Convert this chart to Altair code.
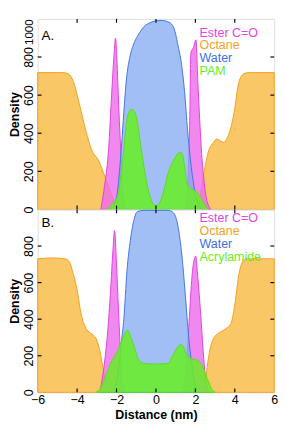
import altair as alt
import pandas as pd

# ---------------- data ----------------
# Panel A
A_OCT_L_X = [-6, -4.7, -4.45, -4.2, -3.9, -3.55, -3.25, -2.9, -2.6, -2.25, -2.0, -1.75]
A_OCT_L_Y = [718, 718, 712, 675, 560, 410, 310, 255, 175, 75, 20, 0]
A_OCT_R_X = [2.1, 2.3, 2.45, 2.65, 2.9, 3.1, 3.3, 3.45, 3.6, 3.8, 3.95, 4.2, 4.45, 4.7, 6]
A_OCT_R_Y = [0, 100, 200, 300, 350, 370, 358, 352, 372, 430, 500, 665, 712, 718, 718]

A_EST_L_X = [-2.8, -2.6, -2.4, -2.25, -2.12, -2.05, -1.97, -1.88, -1.78, -1.68, -1.6]
A_EST_L_Y = [0, 130, 320, 600, 820, 900, 760, 520, 300, 90, 0]
A_EST_R_X = [1.5, 1.62, 1.72, 1.77, 1.9, 2.03, 2.13, 2.22, 2.32, 2.45, 2.6, 2.8]
A_EST_R_Y = [0, 150, 500, 820, 850, 890, 660, 470, 290, 140, 40, 0]

A_WAT_X = [-2.4, -2.2, -2.0, -1.85, -1.75, -1.63, -1.5, -1.3, -1.1, -0.9, -0.6, -0.3,
           0.0, 0.3, 0.6, 0.85, 1.0, 1.1, 1.3, 1.45, 1.6, 1.75, 1.9, 2.05, 2.25, 2.4]
A_WAT_Y = [0, 10, 60, 200, 330, 510, 680, 810, 875, 915, 960, 980,
           990, 992, 985, 965, 920, 870, 760, 620, 420, 260, 140, 60, 10, 0]

A_PAM_X = [-2.5, -2.2, -1.95, -1.8, -1.65, -1.5, -1.38, -1.25, -1.1, -0.94, -0.78, -0.6,
           -0.45, -0.3, -0.15, 0.0, 0.15, 0.3, 0.45, 0.6, 0.78, 0.93, 1.09, 1.25, 1.35,
           1.45, 1.55, 1.7, 1.85, 2.05, 2.2, 2.35, 2.5, 2.65]
A_PAM_Y = [0, 30, 70, 160, 300, 450, 510, 525, 515, 460, 340, 220,
           130, 70, 30, 20, 30, 65, 120, 185, 235, 265, 290, 300, 285,
           230, 150, 115, 105, 95, 75, 50, 20, 0]

# Panel B
B_OCT_L_X = [-6, -5.3, -4.6, -4.4, -4.2, -4.0, -3.8, -3.6, -3.4, -3.2, -3.0, -2.85, -2.7, -2.55, -2.4]
B_OCT_L_Y = [730, 735, 730, 715, 650, 560, 430, 360, 330, 315, 285, 230, 140, 60, 0]
B_OCT_R_X = [2.45, 2.6, 2.75, 2.95, 3.2, 3.5, 3.8, 4.0, 4.2, 4.4, 4.6, 5.2, 6]
B_OCT_R_Y = [0, 140, 240, 300, 325, 345, 375, 480, 640, 715, 730, 730, 730]

B_EST_L_X = [-2.85, -2.65, -2.45, -2.3, -2.18, -2.1, -2.0, -1.9, -1.8, -1.7, -1.6]
B_EST_L_Y = [0, 130, 330, 560, 780, 885, 700, 450, 220, 70, 0]
B_EST_R_X = [1.4, 1.55, 1.7, 1.85, 1.95, 2.02, 2.1, 2.2, 2.3, 2.42, 2.55, 2.7]
B_EST_R_Y = [0, 150, 420, 660, 730, 745, 660, 530, 380, 190, 50, 0]

B_WAT_X = [-2.3, -2.0, -1.85, -1.75, -1.63, -1.47, -1.3, -1.1, -0.95, -0.6, 0.0, 0.6,
           0.85, 1.0, 1.17, 1.36, 1.52, 1.68, 1.89, 2.0, 2.13]
B_WAT_Y = [0, 60, 170, 280, 400, 665, 830, 950, 988, 995, 995, 995,
           985, 960, 875, 700, 490, 280, 105, 40, 0]

B_ACR_X = [-3.05, -2.8, -2.55, -2.38, -2.14, -1.95, -1.75, -1.6, -1.46, -1.38, -1.27, -1.15,
           -1.03, -0.87, -0.62, 0.0, 0.6, 0.85, 1.09, 1.25, 1.41, 1.57, 1.81, 2.05, 2.29,
           2.45, 2.6, 2.7, 2.85, 3.0]
B_ACR_Y = [0, 25, 90, 140, 190, 225, 280, 320, 340, 330, 300, 265,
           225, 175, 158, 155, 158, 202, 246, 262, 246, 202, 184, 178, 158,
           119, 75, 50, 15, 0]

X_TICKS = [-6, -4, -2, 0, 2, 4, 6]
X_INNER_TICKS = [-4, -2, 0, 2, 4]
Y_TICKS_A = [0, 200, 400, 600, 800, 1000]
Y_TICKS_B = [0, 200, 400, 600, 800]
Y_INNER_TICKS = [200, 400, 600, 800]

LEGEND_A = ["Ester C=O", "Octane", "Water", "PAM"]
LEGEND_B = ["Ester C=O", "Octane", "Water", "Acrylamide"]
TEXT_COLORS = ["#e445e4", "#f5a31a", "#3d6fe0", "#66ee22"]

# ---------------- styling ----------------
FONT = "Liberation Sans"
W = 247
H_A = 199
H_B = 191

OCT = ("#f8b940", "#f0a020")
EST = ("#ec6aec", "#e040e0")
WAT = ("#82aaf0", "#3e74e0")
PAM = ("#66ee22", "#5ed82a")

xscale = alt.Scale(domain=[-6, 6], nice=False, zero=False)


def yaxis(values):
    return alt.Axis(
        values=values, title="Density", titleFont=FONT, titleFontSize=13,
        titleFontWeight="bold", titleColor="black", titlePadding=2,
        labelAngle=-90, format="d",
        labelAlign={"condition": {"test": "datum.value >= 1000", "value": "right"}, "value": "center"},
        labelFontSize={"condition": {"test": "datum.value >= 1000", "value": 12}, "value": 13},
        labelBaseline="bottom", labelPadding=2, labelFont=FONT,
        labelColor="black", labelOverlap=False, labelFlush=False, labelBound=False,
        ticks=False, tickSize=0, domain=False, grid=False)


xaxis_bottom = alt.Axis(
    values=X_TICKS, title="Distance (nm)", titleFont=FONT, titleFontSize=13,
    titleFontWeight="bold", titleColor="black", titlePadding=2,
    labelFont=FONT, labelFontSize=13, labelColor="black", labelPadding=2,
    labelAngle=0, labelOverlap=False, labelFlush=False, labelBound=False,
    ticks=False, tickSize=0, domain=False, grid=False, format="d")


def panel(series, legend, label, ymax, height, ycoords, yvals, xaxis, label_y):
    yscale = alt.Scale(domain=[0, ymax], nice=False, zero=True)
    ya = yaxis(yvals)
    layers = []
    for xs, ys, (fill, stroke), op in series:
        df = pd.DataFrame({"x": xs, "y": ys})
        layers.append(
            alt.Chart(df).mark_area(fill=fill, fillOpacity=op, stroke=stroke,
                                    strokeWidth=1, interpolate="monotone")
            .encode(x=alt.X("x:Q", scale=xscale, axis=xaxis),
                    y=alt.Y("y:Q", scale=yscale, axis=ya)))
    # inward ticks
    tx = pd.DataFrame({"v": X_INNER_TICKS})
    ty = pd.DataFrame({"v": Y_INNER_TICKS})
    for y0, y1 in [(0, 4), (height - 4, height)]:
        layers.append(alt.Chart(tx).mark_rule(color="black", strokeWidth=1.2).encode(
            x=alt.X("v:Q", scale=xscale, axis=xaxis), y=alt.value(y0), y2=alt.value(y1)))
    for x0, x1 in [(0, 4), (W - 4, W)]:
        layers.append(alt.Chart(ty).mark_rule(color="black", strokeWidth=1.2).encode(
            y=alt.Y("v:Q", scale=yscale, axis=ya), x=alt.value(x0), x2=alt.value(x1)))
    # legend text
    for name, col, yy in zip(legend, TEXT_COLORS, ycoords):
        layers.append(alt.Chart(pd.DataFrame({"t": [name]})).mark_text(
            font=FONT, fontSize=13, color=col, align="left", baseline="alphabetic")
            .encode(text="t:N", x=alt.value(169), y=alt.value(yy)))
    layers.append(alt.Chart(pd.DataFrame({"t": [label]})).mark_text(
        font=FONT, fontSize=14, color="black", align="left", baseline="alphabetic")
        .encode(text="t:N", x=alt.value(4), y=alt.value(label_y)))
    return alt.layer(*layers).properties(width=W, height=height)


top = panel(
    [(A_OCT_L_X, A_OCT_L_Y, OCT, 0.8), (A_OCT_R_X, A_OCT_R_Y, OCT, 0.8),
     (A_EST_L_X, A_EST_L_Y, EST, 0.8), (A_EST_R_X, A_EST_R_Y, EST, 0.8),
     (A_WAT_X, A_WAT_Y, WAT, 0.75), (A_PAM_X, A_PAM_Y, PAM, 0.85)],
    LEGEND_A, "A.", 1000, H_A, [18.5, 31.8, 45.1, 58.4], Y_TICKS_A, None, 22)

bottom = panel(
    [(B_OCT_L_X, B_OCT_L_Y, OCT, 0.8), (B_OCT_R_X, B_OCT_R_Y, OCT, 0.8),
     (B_EST_L_X, B_EST_L_Y, EST, 0.8), (B_EST_R_X, B_EST_R_Y, EST, 0.8),
     (B_WAT_X, B_WAT_Y, WAT, 0.75), (B_ACR_X, B_ACR_Y, PAM, 0.85)],
    LEGEND_B, "B.", 1000, H_B, [13.5, 26.8, 40.1, 53.4], Y_TICKS_B, xaxis_bottom, 18)

chart = alt.vconcat(top, bottom, spacing=0, bounds="flush").properties(
    padding=0
).configure_view(stroke="black", strokeWidth=1.5).configure(font=FONT)

chart.save("out.html", embed_options={"renderer": "svg", "actions": False})
